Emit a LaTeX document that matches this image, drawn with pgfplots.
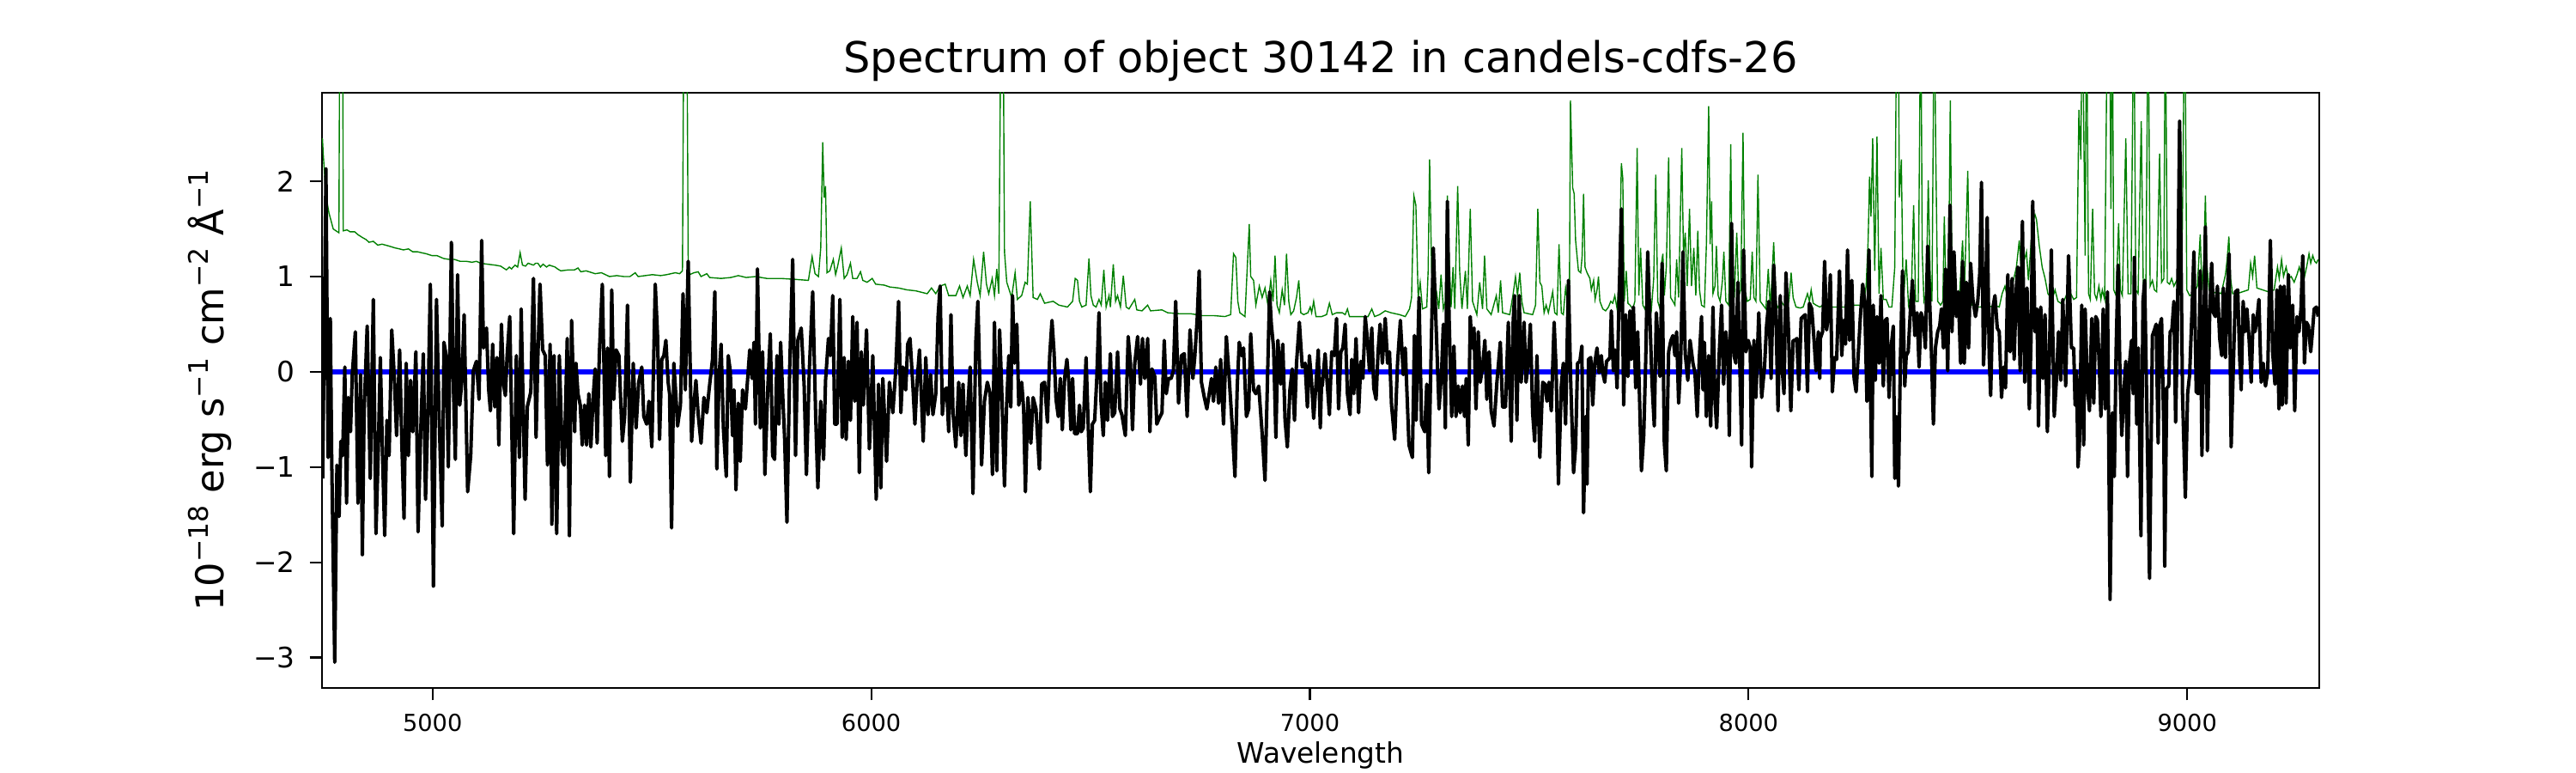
\documentclass[border=0pt]{standalone}
\usepackage{pgfplots}
\pgfplotsset{compat=1.18}
\usepackage{fontspec}
\setmainfont{DejaVu Sans}
\definecolor{mplgreen}{HTML}{008000}
\definecolor{mplblue}{HTML}{0000FF}
\newcommand\sups[1]{\raisebox{0.42em}{\fontsize{11.3pt}{12pt}\selectfont #1}}
\begin{document}
\begin{tikzpicture}
\useasboundingbox (-135pt,-35.64pt) rectangle (945pt,288.36pt);
\begin{axis}[
 at={(0,0)}, anchor=south west,
 scale only axis, width=837.36pt, height=249.48pt,
 xmin=4748, xmax=9301, ymin=-3.32, ymax=2.93,
 axis line style={line width=0.85pt},
 tick align=outside, tick pos=left,
 major tick length=5.2pt,
 tick style={line width=0.8pt, black},
 minor tick num=0,
 xtick={5000,6000,7000,8000,9000}, xticklabels={5000,6000,7000,8000,9000},
 ytick={-3,-2,-1,0,1,2}, yticklabels={−3,−2,−1,0,1,2},
 xticklabel style={font=\fontsize{9.8pt}{11pt}\selectfont, inner sep=0pt, anchor=north, yshift=-5.6pt},
 yticklabel style={font=\fontsize{11.8pt}{13pt}\selectfont, inner sep=0pt, anchor=east, xshift=-5.96pt},
 clip=true,
]
% sky / error spectrum (green)
\addplot[mplgreen, line width=0.5pt] coordinates {
(4749,2.45)(4750.8,2.29)(4757,1.85)(4763.8,1.67)(4773.6,1.50)(4780,1.48)(4786.6,1.46)(4788.6,4)(4795.1,4)(4796.4,1.48)(4805,1.49)(4812,1.47)(4822.5,1.47)(4830,1.44)(4840,1.41)(4848,1.39)(4855.2,1.36)(4865,1.37)(4875,1.33)(4885,1.34)(4900.9,1.32)(4915,1.30)(4925,1.29)(4933.5,1.28)(4945,1.29)(4955,1.26)(4966.1,1.26)(4975,1.25)(4985,1.24)(4998.7,1.22)(5010,1.22)(5025,1.19)(5037.9,1.18)(5050,1.18)(5063,1.16)(5077.1,1.16)(5090,1.15)(5100,1.16)(5109.7,1.14)(5125,1.13)(5142.3,1.12)(5155,1.11)(5168.4,1.07)(5175,1.10)(5180,1.08)(5188,1.12)(5194,1.10)(5199.7,1.25)(5205,1.12)(5212,1.11)(5218,1.14)(5223.9,1.13)(5230,1.12)(5235,1.14)(5240.2,1.14)(5246,1.10)(5252,1.13)(5259.8,1.10)(5266,1.12)(5279.4,1.10)(5285,1.08)(5292.4,1.06)(5310,1.07)(5323.7,1.07)
(5331.5,1.09)(5338,1.05)(5350,1.06)(5370.7,1.03)(5385,1.04)(5403.3,1.00)(5420,1.01)(5435.9,1.00)(5450,1.00)(5462,1.04)(5468.6,1.00)(5485,1.01)(5501.2,1.02)(5520,1.01)(5533.8,1.02)(5553.4,1.04)(5563.2,1.03)(5569.7,1.06)(5573,4)(5579.5,4)(5582.8,1.16)(5586,1.02)(5595.8,1.04)(5605.6,1.05)(5612.1,1.00)(5625.2,1.03)(5631.7,0.99)(5657.8,0.98)(5680,0.99)(5697,1.01)(5715,0.99)(5736.1,1.00)(5762.2,0.98)(5794.9,0.98)(5827.5,0.97)(5856.8,0.96)(5865.3,1.21)(5871.9,1.03)(5879.7,1.00)(5884.9,1.30)(5889.5,2.41)(5892.7,1.83)(5895.9,1.95)(5899.2,1.04)
(5905.7,1.06)(5913.6,1.18)(5918.8,1.02)(5924,1.12)(5931.8,1.30)(5938.4,0.98)(5944.9,1.02)(5952.7,1.14)(5957.9,0.98)(5967.7,0.98)(5975.6,1.05)(5980.8,0.96)(5990.6,0.94)(6002.3,0.98)(6010.1,0.92)(6029.7,0.91)(6042.8,0.89)(6062.4,0.88)(6081.9,0.86)(6101.5,0.85)(6127.6,0.82)(6137.4,0.88)(6147.2,0.82)(6157,0.90)(6168.7,0.92)(6176.6,0.80)(6192.9,0.80)(6201.4,0.90)(6209.2,0.78)(6219,0.90)(6225.5,0.80)(6233.4,1.18)(6241.8,0.94)(6248.3,0.80)(6256.2,1.26)(6262.7,0.92)(6267.9,0.82)(6275.8,0.98)(6281,0.80)(6286.2,1.08)(6290.8,0.82)(6296,4)(6300.5,4)(6303.8,1.26)(6309,0.94)(6320.1,0.78)(6328,1.04)(6333.2,0.76)(6343,0.80)(6350.8,0.94)(6356,0.92)(6362.5,1.79)(6369.1,0.78)(6378.9,0.76)(6385.4,0.82)(6395.2,0.72)(6414.7,0.74)(6427.8,0.70)(6447.4,0.68)(6459.1,0.74)
(6465,0.98)(6470.3,0.96)(6474.8,0.74)(6480,0.68)(6489.8,0.70)(6496.4,1.19)(6500.9,0.80)(6506.2,0.70)(6512.7,0.68)(6519.2,0.76)(6524.4,0.70)(6530.3,1.07)(6535.5,0.68)(6542.1,0.80)(6545.3,0.68)(6551.8,1.13)(6557.1,0.74)(6561.6,0.80)(6568.2,0.68)(6574.7,1.01)(6581.2,0.68)(6587.7,0.66)(6595.6,0.72)(6600.8,0.76)(6605.4,0.65)(6617.1,0.64)(6630.2,0.70)(6636.7,0.64)(6662.8,0.65)(6675.8,0.62)(6701.9,0.61)(6728,0.61)(6754.1,0.59)(6780.2,0.59)(6806.4,0.58)(6819.4,0.60)(6825.9,1.24)(6831.2,1.20)(6835.7,0.74)(6840.3,0.62)(6852,0.58)(6861.8,1.55)(6865.1,1.00)(6871.6,0.96)(6876.8,0.70)(6884.7,0.90)(6891.2,0.78)(6897.7,0.88)(6904.3,0.70)(6910.8,0.96)(6916,0.74)(6920.6,1.22)(6925.1,0.70)(6930.4,0.62)(6936.9,0.86)(6942.1,0.70)(6946.7,1.24)(6951.9,0.74)(6956.5,0.60)(6963,0.64)(6969.5,0.78)(6974.7,0.96)(6979.3,0.62)(6985.8,0.60)(6995.6,0.62)(7000.8,0.68)(7004.1,0.62)(7008.6,0.74)(7013.9,0.58)(7026.9,0.58)
(7038,0.60)(7044.5,0.72)(7051,0.60)(7060.8,0.62)(7073.9,0.62)(7080.4,0.60)(7085.6,0.66)(7090.2,0.58)(7106.5,0.58)(7122.8,0.58)(7132.6,0.58)(7141.1,0.66)(7147.6,0.58)(7158.7,0.60)(7171.8,0.64)(7184.8,0.62)(7204.4,0.60)(7217.4,0.58)(7227.2,0.66)(7231.8,0.78)(7237,1.85)(7241.6,1.75)(7246.8,0.78)(7251.4,0.94)(7256.6,0.66)(7266.4,0.68)(7269.6,1.06)(7272.9,2.23)(7277.5,1.06)(7282.7,0.68)(7289.2,0.82)(7293.8,0.66)(7299,1.02)(7304.2,0.66)(7308.8,0.74)(7313.4,1.85)(7317.3,1.22)(7321.8,0.68)(7326.4,1.10)(7330.3,0.66)(7336.9,1.95)(7341.4,1.06)(7346.6,0.66)(7354.5,1.06)(7359,0.66)(7365.6,1.71)(7370.8,0.74)(7380.6,0.60)(7387.1,0.94)(7393.6,0.66)(7398.2,1.22)(7403.4,0.66)(7413.2,0.60)(7425,0.80)(7429.5,0.62)(7434.7,0.96)(7439.3,0.62)(7455.6,0.60)(7463.5,0.82)(7468.7,1.00)(7473.3,0.80)(7478.5,1.04)(7483.1,0.74)(7488.3,0.62)(7507.8,0.60)(7514.4,0.70)(7519.6,1.71)(7524.2,0.94)(7528.7,0.90)(7533.9,0.62)(7538.5,0.70)(7543.7,0.62)(7553.5,0.84)(7558.1,0.62)(7563.3,0.60)(7567.9,1.34)(7573.1,0.62)(7577.7,0.60)(7582.9,0.88)(7587.5,0.74)(7591.4,0.62)(7594,2.85)
(7599.1,1.93)(7602.4,1.87)(7605.7,1.38)(7612.2,1.06)(7617.4,1.04)(7620.7,1.22)(7623.9,1.87)(7627.2,1.10)(7631.8,1.04)(7638.3,0.98)(7641.6,0.86)(7646.8,0.96)(7650.1,0.76)(7654.6,0.86)(7657.9,1.00)(7661.1,0.74)(7667.7,0.66)(7674.2,0.64)(7680.7,0.68)(7685.9,0.74)(7690.5,0.72)(7695.1,0.80)(7700.3,0.66)(7704.9,0.98)(7710.1,2.19)(7713.3,2.03)(7716.6,0.74)(7721.2,1.06)(7725.1,0.72)(7729.7,0.70)(7736.2,0.66)(7740.8,0.74)(7746,2.35)(7749.9,0.80)(7753.8,1.30)(7759,0.70)(7763.6,0.66)(7768.8,0.74)(7773.4,0.78)(7778.6,0.66)(7783.8,0.98)(7788.4,2.07)(7793,0.74)(7798.2,0.66)(7801.4,1.14)(7804.7,1.24)(7808,0.80)(7812.5,1.10)(7817.8,2.25)(7822.3,0.78)(7827.6,0.74)(7832.1,0.70)(7836,1.18)(7840.6,0.78)(7847.8,2.35)(7851.7,1.22)(7855.6,1.46)(7860.2,0.90)(7865.4,1.71)(7870,0.90)(7875.2,1.30)(7879.8,0.80)(7884.3,1.48)(7888.2,0.86)(7892.8,0.70)(7899.3,0.68)(7903.9,1.34)(7909.1,2.79)(7912.4,1.34)(7915.7,1.79)(7918.9,0.82)(7923.5,0.90)(7926.7,1.32)(7930.7,0.80)(7935.2,0.74)(7940.5,0.96)(7943.7,1.26)(7948.3,0.74)(7954.8,0.70)(7959.4,2.39)(7962.6,0.92)(7967.9,0.82)(7973.1,1.46)(7977.6,0.80)(7982.2,0.86)(7987.4,2.51)(7991.4,0.86)(7997.2,0.74)(8003.8,0.76)(8008.3,1.26)(8012.2,0.78)(8016.8,0.74)(8021.4,2.07)(8026.6,0.74)(8033.1,0.70)(8039.6,0.66)(8044.9,1.08)(8049.4,0.68)(8053.3,0.98)(8057.3,1.36)(8062.5,0.72)(8069,0.66)(8074.2,0.74)(8080.1,0.70)(8085.3,0.68)(8091.9,0.74)(8097.1,1.04)(8101.6,0.78)(8108.2,0.68)(8118,0.67)(8124.5,0.68)(8134.3,0.82)(8138.8,0.74)(8142.7,0.86)(8147.3,0.72)(8153.8,0.70)(8162.3,0.68)
(8170,0.70)(8183.2,0.68)(8196.2,0.68)(8209.3,0.68)(8222.3,0.68)(8241.9,0.70)(8261.5,0.70)(8268,0.90)(8272.6,1.38)(8275.8,2.05)(8279.1,1.63)(8283,2.45)(8287.6,1.06)(8292.8,2.47)(8297.4,0.82)(8301.9,1.30)(8307.2,0.76)(8313.7,0.76)(8320.2,0.68)(8326.7,0.68)(8333.3,1.10)(8337.8,4)(8341.1,4)(8343.7,1.83)(8348.3,2.23)(8351.5,1.10)(8354.1,0.82)(8359.4,1.18)(8364.6,0.70)(8371.1,0.82)(8376.3,1.75)(8380.9,0.74)(8386.8,0.74)(8392.6,4)(8395.9,1.26)(8399.8,0.74)(8405,0.82)(8409.6,2.01)(8414.2,0.98)(8418.1,0.74)(8423.3,4)(8426.6,2.35)(8431.1,0.74)(8437.7,0.70)(8442.9,0.74)(8446.2,1.63)(8450.7,0.74)(8455.9,0.94)(8459.9,2.85)(8463.8,0.98)(8469,0.78)(8473.6,0.74)(8480.1,0.74)(8487.9,1.38)(8491.8,0.80)(8499.7,2.11)(8504.2,0.86)(8509.5,0.70)(8519.2,0.68)(8529,0.68)(8535.6,0.70)(8542.1,0.74)(8548.6,0.68)(8561.7,0.70)(8571.5,0.68)(8578,0.82)(8584.5,0.90)(8591,0.76)(8600.8,0.90)(8610.6,1.10)(8617.1,1.38)(8621.7,1.06)(8626.9,1.14)(8633.5,1.26)(8638,0.96)(8643.2,1.30)(8647.8,1.58)(8653,1.65)(8656.3,1.60)(8662.8,1.32)(8669.3,1.10)(8675.9,0.98)(8682.4,0.82)(8692.2,0.76)(8698.7,0.86)(8705.2,0.74)(8711.8,0.72)(8718.3,0.74)(8730,0.86)
(8741.2,0.76)(8747.7,0.78)(8753,2.75)(8757.5,2.23)(8760.8,4)(8767.3,1.22)(8770.5,4)(8775.1,0.82)(8779,0.76)(8784.3,1.71)(8788.8,0.82)(8793.4,0.76)(8798.6,0.90)(8803.2,0.76)(8806.4,0.86)(8811.7,0.76)(8818.2,4)(8822.8,4)(8826,1.71)(8829.3,4)(8832.5,0.86)(8837.8,0.80)(8843.6,1.56)(8847.6,0.86)(8852.1,0.80)(8860,2.45)(8865.2,0.82)(8871.7,0.82)(8878.2,4)(8882.8,0.86)(8888,0.82)(8895.2,2.63)(8899.8,0.90)(8905.6,0.82)(8910.9,4)(8915.4,0.90)(8920.6,0.96)(8925.2,0.86)(8930.4,0.84)(8937,2.29)(8941.5,0.94)(8946.7,0.98)(8950,4)(8954.6,0.94)(8959.8,0.92)(8964.4,0.98)(8969.6,0.90)(8976.1,0.96)(8982.6,0.94)(8987.9,1.06)(8994.4,4)(8999,0.86)(9005.5,0.80)(9015.3,0.82)(9023.1,0.90)(9029.6,1.44)(9033.5,0.86)(9037.5,1.14)(9041.4,1.85)(9044.6,1.14)(9049.9,0.86)(9057.7,0.82)(9067.5,0.84)(9077.3,0.82)(9087.1,1.02)(9091,1.18)(9094.9,1.42)(9098.8,0.98)(9103.4,0.82)(9113.2,0.82)(9126.2,0.84)(9139.3,0.86)(9144.5,1.14)(9149.1,1.00)(9153.6,1.22)(9158.8,0.88)(9171.9,0.86)(9184.9,0.84)(9198,0.86)(9205.8,1.10)(9209.7,0.98)(9215,1.18)(9219.5,1.00)(9225.4,1.10)(9230.6,0.98)(9237.1,1.00)(9243.7,0.94)(9250.2,1.02)(9255.4,1.10)(9260,1.02)(9266.5,0.98)(9273,1.12)(9277.6,1.24)(9281.5,1.14)(9286.1,1.22)(9290.6,1.16)(9294.6,1.14)(9298.5,1.18)
};
% zero line (blue)
\addplot[mplblue, line width=1.95pt] coordinates {(4748,0)(9301,0)};
% flux (black)
\addplot[black, line width=1.45pt, line join=round] coordinates {
(4749.5,-1.12)(4757,2.13)(4762,-0.9)(4767,0.56)(4770,-0.87)(4777,-3.05)(4782,-0.98)(4787,-1.52)(4791,-0.73)(4795,-0.88)(4800,0.05)(4804,-1.38)(4808,-0.27)(4813,-0.63)(4817,-0.03)(4824,0.42)(4830,-1.38)(4836,-0.03)(4840,-1.92)(4844,-0.43)(4851,0.48)(4858,-1.12)(4865,0.76)(4871,-1.70)(4876,-0.88)(4881,0.15)(4886,-0.88)(4891,-1.72)(4896,-0.51)(4901,-0.88)(4907,0.44)(4913,-0.07)(4918,-0.67)(4925,0.23)(4930,-0.75)(4935,-1.54)(4940,0.09)(4945,-0.88)(4950,-0.09)(4955,-0.63)(4962,0.21)(4967,-1.68)(4973,-0.63)(4979,0.19)(4984,-1.34)(4989,-0.51)(4995,0.92)(5002,-2.25)(5009,0.76)(5015,-0.47)(5022,-1.62)(5026,0.31)(5031,0.17)(5036,-1.0)(5043,1.36)(5048,-0.23)(5052,-0.92)(5057,1.02)(5062,-0.35)(5067,-0.09)(5072,0.60)(5080,-1.26)(5087,-0.88)(5093,0.01)(5100,0.11)(5106,-0.29)(5112,1.38)(5116,0.25)(5123,0.46)(5128,-0.19)(5132,-0.41)(5137,0.29)(5142,-0.37)(5147,0.15)(5151,-0.77)(5157,0.50)(5162,-0.13)(5166,-0.25)(5170,0.17)(5176,0.58)(5185,-1.70)(5191,0.17)(5198,-0.90)(5202,0.66)(5211,-1.34)(5216,-0.37)(5224,-0.21)(5230,0.98)(5236,-0.69)(5240,0.13)(5245,0.92)(5251,0.23)(5257,0.17)(5262,-0.98)(5268,0.29)(5272,-1.60)(5277,0.17)(5283,-1.70)(5289,0.17)(5296,-0.94)(5300,-0.98)(5307,0.35)(5312,-1.72)(5317,0.54)(5324,-0.63)
(5327,0.09)(5331.5,-0.23)(5336.7,-0.35)(5341.3,-0.77)(5346.5,-0.35)(5351.1,-0.77)(5356.3,-0.23)(5360.9,-0.79)(5366.1,-0.27)(5370.7,0.03)(5375.2,-0.75)(5380.4,0.21)(5387,0.92)(5394.8,-0.88)(5398.7,0.25)(5403.3,-1.10)(5408.5,0.86)(5413.1,-0.29)(5418.3,0.23)(5424.8,0.17)(5432.7,-0.73)(5437.9,-0.47)(5444.4,0.70)(5451,-1.16)(5457.5,0.09)(5464,-0.59)(5469.9,-0.11)(5477,0.05)(5481.6,-0.47)(5488.1,-0.55)(5493.3,-0.31)(5499.9,-0.79)(5507.7,0.92)(5512.9,0.38)(5517.5,-0.71)(5522.7,0.13)(5527.3,0.17)(5531.9,0.33)(5537.1,-0.11)(5540.3,-0.23)(5544.9,-1.64)(5550.1,0.09)(5554.7,-0.25)(5558.6,-0.57)(5565.1,-0.35)(5571,0.82)(5576.2,-0.19)(5582.8,1.16)(5590.6,-0.73)(5595.8,-0.35)(5600.4,-0.09)(5605.6,-0.45)(5612.1,-0.75)(5618.6,-0.27)(5625.2,-0.43)(5630.4,-0.19)(5638.2,0.13)(5643.5,0.84)(5648,-1.02)(5653.2,-0.05)(5657.8,0.29)(5663,-0.59)(5669.6,-1.10)(5674.1,0.17)(5678.7,0.01)(5683.9,-0.67)(5687.2,-0.19)(5691.7,-1.24)(5697,-0.33)(5701.5,-0.94)(5706.7,-0.19)(5713.3,-0.39)(5723.1,0.23)(5728.3,-0.07)(5732.8,0.31)(5736.1,-0.55)(5740.7,1.08)(5747.2,-0.59)(5752.4,0.21)(5757.6,-1.08)(5764.2,-0.17)(5770,0.40)(5775.3,-0.88)(5779.8,-0.92)(5785.1,0.17)(5789.6,-0.55)(5793.5,0.31)(5798.1,-0.23)(5802.7,-0.71)(5807.9,-1.58)(5814.4,0.09)(5821,1.18)(5827.5,-0.88)(5832.7,0.33)(5840.5,0.46)(5847,-0.13)(5852.3,-1.08)(5858.8,0.01)(5866.6,0.84)(5873.2,-0.43)(5878.4,-1.22)(5884.9,-0.31)(5891.4,-0.92)
(5895.9,-0.09)(5902.5,0.35)(5907,0.17)(5912.3,0.80)(5916.8,-0.55)(5922.1,-0.55)(5928.6,0.76)(5933.8,-0.69)(5938.4,0.15)(5942.9,-0.71)(5948.1,0.11)(5952.7,-0.51)(5957.9,0.58)(5962.5,-0.31)(5967.7,0.52)(5972.9,-1.06)(5977.5,0.21)(5982.1,-0.35)(5989.3,0.44)(5995.8,-0.81)(6003.6,0.17)(6011.4,-1.34)(6016.7,-0.13)(6021.9,-1.22)(6026.5,-0.07)(6035,-0.94)(6041.5,-0.11)(6049.3,-0.43)(6055.8,0.01)(6062.4,0.74)(6067.6,-0.43)(6072.1,0.05)(6078.7,-0.19)(6083.2,0.29)(6088.5,0.35)(6095,-0.15)(6099.6,-0.55)(6104.8,-0.09)(6110,0.23)(6118.5,-0.73)(6124.4,0.15)(6129.6,-0.45)(6135.4,-0.03)(6140.7,-0.45)(6147.2,-0.23)(6152.4,0.58)(6157,0.90)(6162.2,-0.45)(6166.8,-0.19)(6172,-0.17)(6176.6,-0.63)(6181.8,0.60)(6186.4,-0.43)(6192.9,-0.79)(6199.4,-0.11)(6204.6,-0.67)(6209.2,-0.13)(6215.7,-0.88)(6220.9,-0.31)(6225.5,0.05)(6232,-1.28)(6238.6,0.33)(6243.1,0.74)(6248.3,-0.23)(6251.6,-0.98)(6258.1,-0.31)(6264.7,-0.11)(6271.2,-0.23)(6276.4,-1.08)(6281,0.52)(6286.2,-1.04)(6292.7,0.44)(6297.3,-0.15)(6303.8,-1.20)(6308.4,-0.39)(6313.6,0.17)(6318.2,-0.37)(6322.1,0.80)(6326.7,0.09)(6331.9,0.50)(6336.4,-0.35)(6343,-0.11)(6347.5,-0.39)(6351.5,-1.26)(6357.3,-0.27)(6363.9,-0.75)(6369.1,-0.27)(6375.6,-0.39)(6383.4,-1.02)(6388.6,-0.13)(6395.2,-0.11)(6401.7,-0.53)(6406.9,0.17)(6412.1,0.54)(6416.7,0.21)(6421.3,-0.29)(6426.5,-0.47)(6431.1,-0.07)(6435.6,-0.61)(6440.9,-0.07)(6446.1,0.13)(6450.6,-0.11)(6455.2,-0.61)(6459.1,-0.07)
(6463.7,-0.65)(6470.3,-0.65)(6474.8,-0.35)(6478.7,-0.63)(6483.3,-0.59)(6489.8,0.15)(6495.1,-0.63)(6499.6,-1.26)(6504.2,-0.55)(6509.4,-0.51)(6514,-0.09)(6519.2,0.62)(6523.8,-0.31)(6529,-0.67)(6533.6,-0.11)(6538.8,-0.51)(6545.3,0.19)(6549.9,-0.47)(6555.1,-0.43)(6561.6,0.21)(6566.9,-0.39)(6571.4,-0.45)(6579.3,-0.67)(6585.8,0.37)(6591,0.09)(6595.6,-0.61)(6600.8,0.09)(6607.3,0.37)(6613.8,-0.13)(6618.4,0.35)(6623.6,-0.07)(6630.2,0.35)(6635.4,-0.63)(6639.9,0.03)(6646.5,-0.05)(6651,-0.55)(6656.3,-0.49)(6662.8,-0.43)(6668,0.33)(6672.6,-0.23)(6677.8,-0.07)(6683.7,-0.07)(6688.9,0.01)(6694.1,0.74)(6700.6,-0.33)(6707.2,0.17)(6713.7,0.19)(6720.2,-0.47)(6726.7,0.44)(6733.3,-0.07)(6737.8,0.17)(6743.1,0.56)(6747.6,1.06)(6752.8,-0.11)(6759.4,-0.27)(6765.2,-0.39)(6770.5,-0.23)(6775.7,-0.07)(6780.2,-0.31)(6785.5,0.05)(6792,-0.33)(6796.6,0.13)(6803.1,-0.55)(6809.6,0.37)(6816.1,-0.07)(6822.7,-0.55)(6829.2,-1.10)(6834.4,-0.15)(6839,0.31)(6844.2,0.17)(6848.8,0.25)(6855.3,-0.47)(6860.5,-0.39)(6865.1,0.40)(6871.6,-0.19)(6876.8,-0.23)(6883.4,-0.15)(6891.2,-0.65)(6897.7,-1.14)(6903,-0.15)(6908.2,0.84)(6912.1,0.50)(6917.3,0.25)(6922.5,-0.69)(6927.1,0.33)(6933.6,-0.13)(6938.2,0.29)(6943.4,-0.51)(6948.6,-0.79)(6954.5,-0.19)(6959.7,0.03)(6964.9,-0.51)(6969.5,0.09)(6976,0.52)(6982.6,0.05)(6989.1,0.09)(6994.3,-0.37)(6998.9,0.17)(7003.4,-0.07)(7008.6,-0.49)(7013.9,-0.13)(7019.1,0.23)(7023.7,-0.59)(7026.9,-0.07)
(7028.2,-0.15)(7034.7,0.19)(7039.9,-0.15)(7044.5,-0.45)(7049.7,0.21)(7055.6,0.17)(7060.8,0.56)(7065.4,-0.39)(7070.6,0.21)(7075.2,0.25)(7080.4,0.50)(7085.6,-0.23)(7091.5,-0.45)(7095.4,0.13)(7100,-0.23)(7105.2,0.35)(7111.1,-0.43)(7116.3,0.11)(7120.9,-0.07)(7126.1,0.58)(7130.6,0.37)(7135.9,0.01)(7141.1,0.46)(7145.6,-0.17)(7150.9,-0.29)(7155.4,0.21)(7160,0.50)(7165.2,0.09)(7171.8,0.56)(7177,0.09)(7181.5,0.21)(7186.1,-0.35)(7193.3,-0.71)(7199.8,0.09)(7206.3,0.54)(7212.9,-0.03)(7217.4,0.25)(7225.9,-0.77)(7233.7,-0.90)(7238.3,0.38)(7242.2,-0.51)(7248.8,0.78)(7254.6,-0.55)(7261.8,-0.63)(7266.4,-0.13)(7270.9,-1.06)(7276.2,0.17)(7281.4,1.30)(7287.9,0.46)(7294.4,-0.39)(7300.3,0.01)(7304.2,0.50)(7308.8,-0.59)(7313.4,1.79)(7317.3,0.58)(7323.2,-0.47)(7328.4,0.27)(7333,-0.47)(7338.2,-0.15)(7342.7,-0.43)(7348,-0.15)(7352.5,-0.47)(7356.4,-0.07)(7361,-0.77)(7365.6,0.58)(7369.5,0.25)(7374.1,0.46)(7378.6,-0.39)(7383.8,0.42)(7388.4,-0.11)(7393.6,0.05)(7398.9,0.33)(7403.4,-0.29)(7408.6,0.21)(7413.2,-0.41)(7419.7,-0.57)(7426.3,-0.11)(7434.1,0.31)(7439.3,-0.37)(7445.9,-0.37)(7452.4,0.52)(7458.9,-0.73)(7463.5,0.54)(7466.7,0.80)(7472,-0.51)(7477.2,0.80)(7481.7,-0.11)(7488.3,0.52)(7492.8,-0.11)(7496.7,0.05)(7502.6,0.50)(7507.8,-0.43)(7512.4,-0.73)(7517.6,0.17)(7524.2,-0.90)(7530.7,-0.11)(7535.9,-0.13)(7540.5,-0.31)(7545,-0.11)(7550.3,-0.41)(7556.8,0.52)(7561.4,0.01)(7566.6,-1.18)(7573.1,-0.15)(7577.7,0.09)(7582.9,-0.55)(7589.4,0.96)(7594.6,-0.11)
(7601.1,-1.06)(7605.7,-0.79)(7610.2,0.09)(7615.5,0.11)(7620,0.27)(7623.9,-1.48)(7628.5,-0.47)(7631.8,-1.18)(7635,0.13)(7640.3,0.15)(7644.8,-0.35)(7649.4,0.09)(7654.6,0.25)(7659.2,-0.01)(7664.4,0.17)(7667.7,-0.01)(7672.2,-0.11)(7676.2,0.11)(7680.7,0.13)(7684,0.15)(7687.2,0.64)(7691.8,0.01)(7695.7,0.23)(7700.3,-0.17)(7704.9,0.78)(7710.1,1.71)(7715.3,-0.35)(7719.9,0.60)(7725.1,-0.05)(7729.7,0.64)(7732.9,0.13)(7737.5,0.68)(7742.7,-0.17)(7747.3,0.42)(7751.2,-0.23)(7755.8,-1.04)(7761,-0.67)(7765.6,0.13)(7770.1,1.26)(7774.7,0.62)(7779.9,-0.11)(7785.1,-0.57)(7789.7,0.62)(7793.6,0.31)(7798.2,-0.05)(7802.8,1.14)(7808,-0.75)(7812.5,-1.04)(7817.8,0.21)(7823,0.33)(7827.6,0.38)(7832.1,0.17)(7836,0.42)(7840.6,-0.33)(7845.2,0.09)(7850.4,1.26)(7855.6,0.19)(7861.5,-0.09)(7866.7,0.33)(7873.2,0.09)(7877.8,-0.01)(7883,-0.47)(7887.6,0.13)(7892.8,0.58)(7896.1,-0.19)(7899.3,0.31)(7903.9,-0.47)(7909.1,0.17)(7913.7,-0.57)(7918.9,0.68)(7923.5,-0.31)(7927.4,-0.59)(7933.3,0.21)(7938.5,0.70)(7943.1,-0.13)(7948.3,0.42)(7952.9,0.17)(7956.1,-0.67)(7961.3,1.56)(7966.6,0.17)(7971.1,0.09)(7975.7,0.94)(7979.6,0.17)(7984.2,-0.77)(7988.7,1.28)(7994,0.21)(7999.2,0.33)(8003.8,0.25)(8007,-1.00)(8012.2,0.33)(8016.8,-0.27)(8023.3,0.62)(8029.9,-0.27)(8036.4,0.05)(8041,0.48)(8046.2,0.74)(8051.4,-0.07)(8057.3,1.12)(8062.5,0.58)(8067.1,-0.41)(8072.3,0.80)(8076.9,0.01)(8080.8,-0.23)(8085.3,1.04)(8090.5,0.50)(8096.4,-0.41)(8101.6,0.33)(8106.2,0.33)(8110.1,0.35)(8114.7,-0.19)(8119.9,0.56)(8124.5,0.58)(8129.1,0.60)(8134.3,-0.21)(8138.8,0.72)(8144.1,0.66)(8149.3,0.33)(8153.8,0.01)(8159.1,0.42)(8162.3,-0.07)
(8163.6,0.35)(8168.8,0.42)(8173.4,1.16)(8177.9,0.44)(8183.2,0.64)(8186.4,1.02)(8191,-0.21)(8196.2,0.15)(8200.8,0.13)(8207.3,1.06)(8212.5,0.17)(8217.1,0.54)(8221,0.29)(8225.6,1.28)(8230.1,0.33)(8235.4,0.96)(8240.6,-0.07)(8245.2,-0.21)(8250.4,0.21)(8254.9,0.58)(8260.2,0.92)(8264.7,0.74)(8269.9,-0.31)(8274.5,1.28)(8277.8,-0.11)(8281,-1.10)(8284.3,0.70)(8288.9,-0.09)(8292.8,0.58)(8297.4,0.09)(8301.9,0.80)(8307.2,-0.15)(8311.7,0.54)(8315.6,0.56)(8320.2,-0.27)(8324.8,0.25)(8330,0.48)(8333.3,-1.12)(8337.8,-0.47)(8341.7,-1.20)(8346.3,0.17)(8350.9,1.06)(8356.1,-0.15)(8359.4,0.17)(8363.9,0.21)(8369.1,0.66)(8373.7,0.96)(8378.9,0.38)(8384.2,0.62)(8388.7,0.05)(8393.3,0.62)(8398.5,0.54)(8403.1,0.25)(8408.3,1.32)(8412.9,0.74)(8416.8,0.21)(8421.4,-0.55)(8425.9,0.25)(8431.1,0.42)(8435.7,0.48)(8439.6,0.66)(8444.2,0.25)(8448.8,1.08)(8454,0.01)(8459.2,1.75)(8463.8,0.42)(8468.3,1.26)(8473.6,0.58)(8478.1,0.84)(8483.4,0.09)(8487.9,1.16)(8491.8,0.09)(8496.4,0.94)(8501.6,0.25)(8506.2,1.14)(8511.4,0.76)(8517.3,0.58)(8522.5,0.74)(8527.1,1.04)(8531,1.99)(8535.6,0.07)(8538.8,0.42)(8544,1.62)(8548.6,0.17)(8551.9,-0.25)(8556.4,0.66)(8561.7,0.80)(8566.9,0.46)(8571.5,0.42)(8576.7,-0.27)(8581.2,0.05)(8585.8,-0.17)(8591,1.02)(8596.2,0.21)(8600.8,0.98)(8605.4,0.13)(8610.6,0.90)(8613.9,1.10)(8619.1,0.01)(8624.3,1.58)(8629.5,-0.11)(8634.8,0.88)(8640,-0.39)(8643.9,0.33)(8647.8,1.79)(8653,0.42)(8657.6,0.66)(8660.9,-0.57)(8666.1,0.68)(8671.3,-0.07)(8675.9,0.60)(8681.1,-0.63)(8685.7,0.13)(8690.2,1.28)(8696.8,-0.47)(8702,-0.07)(8706.5,0.42)(8711.8,-0.09)(8716.3,0.76)(8722.9,-0.15)(8729.4,1.22)
(8736,0.25)(8741.2,0.25)(8744.4,-0.35)(8747.7,0.01)(8751,-1.00)(8754.2,-0.77)(8759.5,0.70)(8764,-0.77)(8767.3,0.66)(8772.5,-0.15)(8777.1,-0.41)(8782.3,0.56)(8786.9,-0.33)(8791.4,0.58)(8795.3,0.54)(8799.9,0.01)(8803.2,-0.47)(8808.4,0.66)(8813,-0.39)(8818.2,0.84)(8824.1,-2.39)(8829.3,-0.43)(8833.8,-1.10)(8837.8,0.21)(8842.3,1.12)(8846.9,-0.07)(8850.8,-0.67)(8855.4,-0.23)(8859.9,0.11)(8863.9,-1.10)(8868.4,0.09)(8873,0.33)(8876.9,-0.23)(8879.5,1.20)(8884.8,-0.55)(8888.7,0.25)(8894.5,-1.72)(8899.1,0.74)(8903,0.96)(8907.6,-0.31)(8914.1,-2.17)(8920.6,0.38)(8925.2,0.44)(8929.1,0.50)(8933.7,-0.75)(8937,0.48)(8941.5,0.56)(8946.7,-0.63)(8948.7,-2.04)(8953.3,-0.17)(8957.8,-0.15)(8961.1,0.42)(8965,0.44)(8969.6,0.74)(8973.5,-0.53)(8977.4,0.40)(8982.6,2.63)(8989.2,-0.23)(8995.7,-1.32)(9000.9,-0.23)(9005.5,-0.03)(9010.7,0.62)(9015.3,1.26)(9020.5,-0.21)(9025.1,-0.23)(9029.6,1.06)(9033.5,-0.88)(9038.1,0.46)(9041.4,1.52)(9045.9,-0.83)(9051.2,0.62)(9055.7,1.14)(9059.6,0.62)(9064.2,0.58)(9068.8,0.90)(9074,0.35)(9078.6,0.17)(9082.5,0.88)(9087.1,0.15)(9091.6,0.84)(9095.5,1.24)(9100.1,-0.79)(9105.3,0.09)(9109.9,0.84)(9115.1,0.86)(9119.7,0.13)(9123,-0.19)(9127.5,0.74)(9131.4,0.42)(9136,0.66)(9141.2,0.33)(9145.8,-0.11)(9150.4,0.60)(9154.3,0.42)(9158.8,0.54)(9163.4,0.76)(9168.6,-0.11)(9173.2,0.09)(9178.4,-0.15)(9183.6,0.01)(9189.5,1.38)(9194.7,0.21)(9200,-0.13)(9204.5,0.86)(9209.1,-0.39)(9212.4,0.90)(9216.3,-0.35)(9220.8,0.90)(9225.4,-0.33)(9230.6,1.02)(9235.2,0.25)(9240.4,0.70)(9245,-0.41)(9250.2,0.58)(9254.8,0.42)(9259.3,0.66)(9263.3,1.22)(9267.2,0.09)(9271.7,0.52)(9276.3,0.48)(9281.5,0.21)(9285.4,0.42)(9289.4,0.66)(9294.6,0.68)(9298.5,0.58)
};
\end{axis}
\node[anchor=base, font=\fontsize{17.8pt}{21pt}\selectfont] at (418.68pt,257.76pt) {Spectrum of object 30142 in candels-cdfs-26};
\node[anchor=base, font=\fontsize{11.8pt}{14pt}\selectfont] at (418.68pt,-31.68pt) {Wavelength};
\node[rotate=90, anchor=base, font=\fontsize{16.1pt}{19pt}\selectfont] at (-41.04pt,124.74pt) {10\sups{−18} erg s\sups{−1} cm\sups{−2} Å\sups{−1}};
\end{tikzpicture}
\end{document}
